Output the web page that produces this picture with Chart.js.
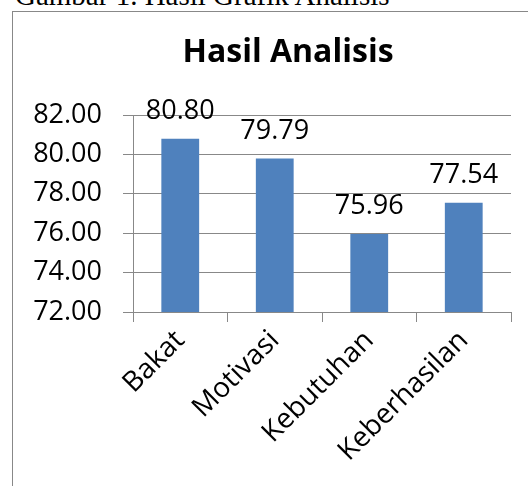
<!DOCTYPE html>
<html>
<head>
<meta charset="utf-8">
<script src="https://cdn.jsdelivr.net/npm/chart.js@4/dist/chart.umd.min.js"></script>
<style>
  html, body { margin: 0; padding: 0; background: #fff; overflow: hidden; width: 528px; height: 486px; }
  #caption { position: absolute; left: 15px; top: -18.6px; font-family: "Liberation Serif", serif; font-size: 29px; line-height: 1; white-space: nowrap; color: #000; }
  #frame { position: absolute; left: 12px; top: 11px; width: 600px; height: 600px; border-left: 1px solid #888; border-top: 1px solid #888; }
  #c { position: absolute; left: 13px; top: 12px; }
</style>
</head>
<body>
<div id="caption">Gambar 1. Hasil Grafik Analisis</div>
<div id="frame"></div>
<canvas id="c" width="550" height="474"></canvas>
<script>
const chartTitle = 'Hasil Analisis';
const categories = ['Bakat', 'Motivasi', 'Kebutuhan', 'Keberhasilan'];
const values = [80.80, 79.79, 75.96, 77.54];
const yMin = 72;
const yMax = 82;
const yStep = 2;

const FONT = '"Open Sans"';
const gridColor = '#888888';

const valueLabels = {
  id: 'valueLabels',
  afterDatasetsDraw(chart) {
    const ctx = chart.ctx;
    const meta = chart.getDatasetMeta(0);
    ctx.save();
    ctx.font = '27px ' + FONT;
    ctx.fillStyle = '#000';
    ctx.textAlign = 'center';
    ctx.textBaseline = 'alphabetic';
    meta.data.forEach((bar, i) => {
      ctx.fillText(values[i].toFixed(2), bar.x, bar.y - 20);
    });
    ctx.restore();
  }
};

new Chart(document.getElementById('c'), {
  type: 'bar',
  data: {
    labels: categories,
    datasets: [{
      data: values,
      backgroundColor: '#4F81BD',
      borderWidth: 0,
      categoryPercentage: 1.0,
      barPercentage: 0.4
    }]
  },
  options: {
    responsive: false,
    animation: false,
    devicePixelRatio: 1,
    layout: { padding: 0 },
    plugins: {
      legend: { display: false },
      tooltip: { enabled: false },
      title: {
        display: true,
        text: chartTitle,
        color: '#000',
        font: { family: FONT, size: 32, weight: 'bold', lineHeight: 1.2 },
        padding: { top: 22, bottom: 42.6 }
      }
    },
    scales: {
      x: {
        offset: true,
        grid: { display: true, drawOnChartArea: false, drawTicks: true, tickLength: 10, color: gridColor, offset: true },
        border: { display: true, color: gridColor, width: 1 },
        ticks: {
          autoSkip: false, maxRotation: 45, minRotation: 45, padding: 2,
          color: '#000', font: { family: FONT, size: 28 }
        },
        afterFit(s) { s.height = 174; }
      },
      y: {
        min: yMin, max: yMax,
        grid: { display: true, drawOnChartArea: true, drawTicks: true, tickLength: 10, color: gridColor, lineWidth: 1 },
        border: { display: true, color: gridColor, width: 1 },
        ticks: {
          stepSize: yStep, padding: 21, color: '#000',
          font: { family: FONT, size: 27 },
          callback: (v) => Number(v).toFixed(2)
        },
        afterFit(s) { s.width = 120; }
      },
      y2: {
        position: 'right',
        display: true,
        grid: { display: false },
        border: { display: false },
        ticks: { display: false },
        afterFit(s) { s.width = 52; }
      }
    }
  },
  plugins: [valueLabels]
});
</script>
</body>
</html>
